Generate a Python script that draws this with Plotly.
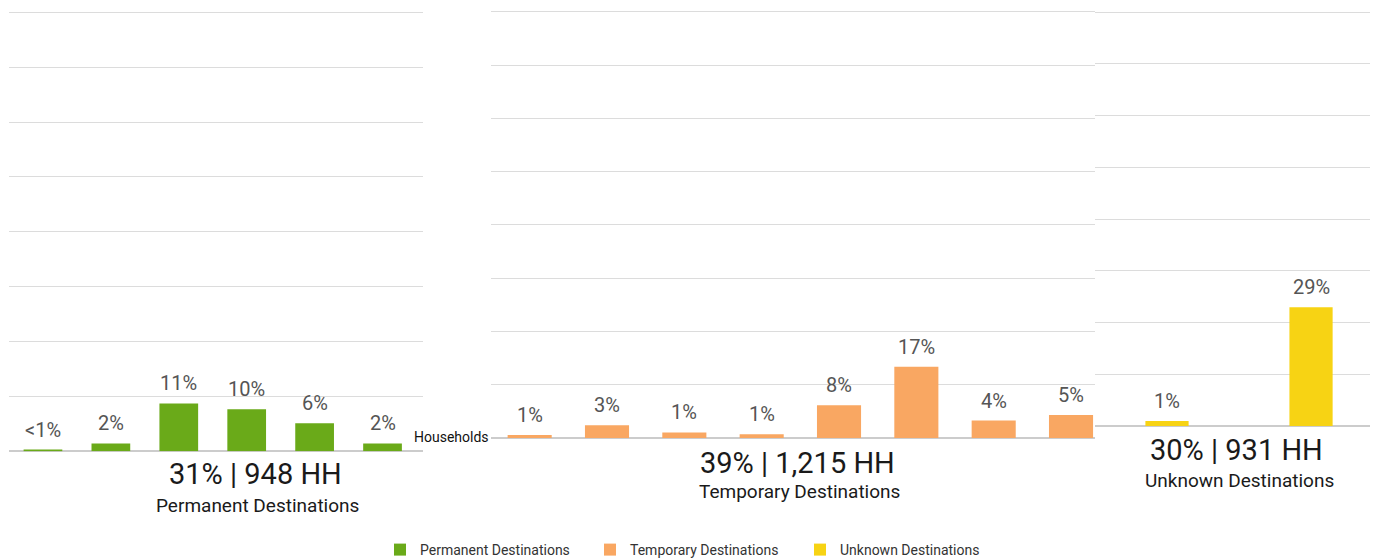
import plotly.graph_objects as go

# ---- data ----
perm_cats = ["P1", "P2", "P3", "P4", "P5", "P6"]
perm_vals = [0.4, 1.8, 10.9, 9.6, 6.4, 1.8]
perm_labels = ["<1%", "2%", "11%", "10%", "6%", "2%"]

temp_cats = ["T1", "T2", "T3", "T4", "T5", "T6", "T7", "T8"]
temp_vals = [0.7, 3.0, 1.3, 0.9, 7.7, 16.7, 4.1, 5.4]
temp_labels = ["1%", "3%", "1%", "1%", "8%", "17%", "4%", "5%"]

unk_cats = ["U1", "U2"]
unk_vals = [1.2, 28.7]
unk_labels = ["1%", "29%"]

group_names = ["Permanent Destinations", "Temporary Destinations", "Unknown Destinations"]
group_totals = ["31% | 948 HH", "39% | 1,215 HH", "30% | 931 HH"]
colors = ["#6AAA19", "#F9A762", "#F7D314"]

# page has an 8px body margin; figure is laid out in page pixel coords minus 8
OFF = 8
W, H = 1378 - OFF, 558
FONT = "Roboto"
YTOP = 100.4  # slightly above 100 so the top gridline is drawn


def px_x(p):
    return (p - OFF) / W


def px_y(p):
    return 1 - (p - OFF) / H


def ydom(bottom_px, top_px):
    ppu = (bottom_px - top_px) / 100.0
    return [px_y(bottom_px), px_y(bottom_px - ppu * YTOP)]


fig = go.Figure()

panels = [
    dict(cats=perm_cats, vals=perm_vals, labels=perm_labels, width=0.57,
         xd=[px_x(9), px_x(423)], yd=ydom(451.3, 12.3), xr=[-0.5, 5.596]),
    dict(cats=temp_cats, vals=temp_vals, labels=temp_labels, width=0.57,
         xd=[px_x(491), px_x(1095)], yd=ydom(438, 12), xr=[-0.5, 7.31]),
    dict(cats=unk_cats, vals=unk_vals, labels=unk_labels, width=0.30,
         xd=[px_x(1095), 1.0], yd=ydom(426, 12), xr=[-0.5, 1.465]),
]

annotations = []
for i, p in enumerate(panels):
    n = "" if i == 0 else str(i + 1)
    xa, ya = "x" + n, "y" + n
    fig.add_trace(go.Bar(
        x=p["cats"], y=p["vals"], name=group_names[i],
        marker=dict(color=colors[i], line=dict(width=0)),
        width=[p["width"]] * len(p["cats"]),
        xaxis=xa, yaxis=ya, hoverinfo="skip",
    ))
    fig.layout["xaxis" + n] = dict(
        domain=p["xd"], range=p["xr"], showticklabels=False, showgrid=False,
        zeroline=False, showline=False, ticks="", anchor=ya, fixedrange=True,
    )
    fig.layout["yaxis" + n] = dict(
        domain=p["yd"], range=[0, YTOP], tick0=0, dtick=12.5, showticklabels=False,
        showgrid=True, gridcolor="#dcdcdc", gridwidth=1,
        zeroline=True, zerolinecolor="#cccccc", zerolinewidth=2,
        showline=False, ticks="", anchor=xa, fixedrange=True,
    )
    for c, v, t in zip(p["cats"], p["vals"], p["labels"]):
        annotations.append(dict(
            x=c, y=v, xref=xa, yref=ya, text=t, showarrow=False,
            yanchor="bottom", yshift=6,
            font=dict(family=FONT, size=20, color="#555555"),
        ))

# group titles
title_pos = [(255, 474, 257, 505), (797, 463, 799, 491), (1236, 450, 1239, 480)]
for i, (tx, ty, sx, sy) in enumerate(title_pos):
    annotations.append(dict(
        x=px_x(tx), y=px_y(ty), xref="paper", yref="paper",
        text=group_totals[i], showarrow=False, xanchor="center", yanchor="middle",
        font=dict(family=FONT, size=29, color="#1a1a1a"),
    ))
    annotations.append(dict(
        x=px_x(sx), y=px_y(sy), xref="paper", yref="paper",
        text=group_names[i], showarrow=False, xanchor="center", yanchor="middle",
        font=dict(family=FONT, size=19, color="#1a1a1a"),
    ))

annotations.append(dict(
    x=px_x(491), y=px_y(437), xref="paper", yref="paper", text="Households",
    showarrow=False, xanchor="right", yanchor="middle",
    font=dict(family=FONT, size=14, color="#111111"),
))

fig.update_layout(
    width=W, height=H,
    margin=dict(l=0, r=0, t=0, b=0),
    paper_bgcolor="white", plot_bgcolor="white",
    showlegend=True,
    legend=dict(orientation="h", x=px_x(695), xanchor="center", y=0, yanchor="bottom",
                font=dict(family=FONT, size=14, color="#333333"),
                entrywidth=165, bgcolor="rgba(0,0,0,0)"),
    annotations=annotations,
    font=dict(family=FONT),
)

fig.write_html("out.html")
